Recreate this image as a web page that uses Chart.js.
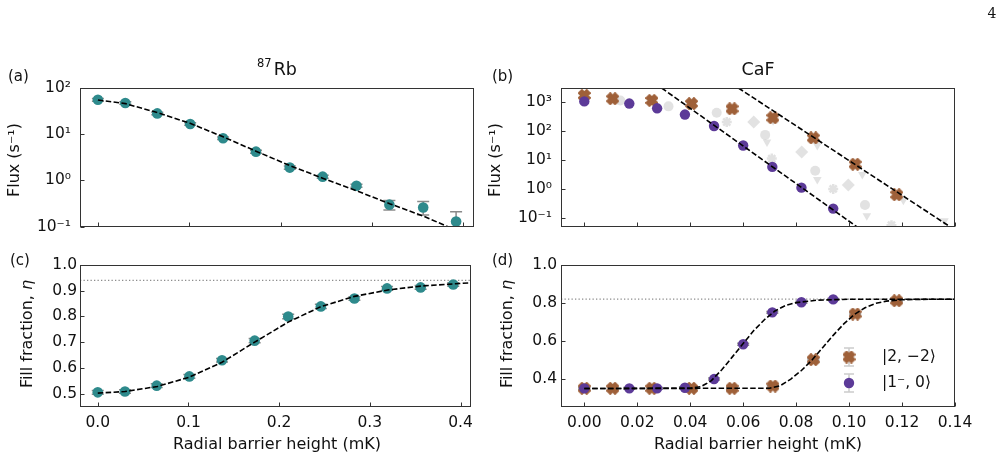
<!DOCTYPE html>
<html>
<head>
<meta charset="utf-8">
<script src="https://cdn.jsdelivr.net/npm/chart.js@4.4.1/dist/chart.umd.min.js"></script>
<style>
  html, body { margin: 0; padding: 0; background: #fff; }
  #wrap { position: relative; width: 1004px; height: 461px; overflow: hidden; }
  canvas { position: absolute; }
</style>
</head>
<body>
<div id="wrap">
  <canvas id="pa" width="480" height="245" style="left:0;top:0"></canvas>
  <canvas id="pb" width="524" height="245" style="left:480px;top:0"></canvas>
  <canvas id="pc" width="480" height="216" style="left:0;top:245px"></canvas>
  <canvas id="pd" width="524" height="216" style="left:480px;top:245px"></canvas>
</div>
<script>
// ---- 87Rb: flux (a) and fill fraction (c) vs radial barrier height (mK) ----
const rbBarrier = [0.000, 0.030, 0.065, 0.101, 0.137, 0.173, 0.210, 0.246, 0.283, 0.319, 0.356, 0.392];
const rbFlux    = [55.7, 47.5, 28.2, 16.7, 8.2, 4.2, 1.9, 1.21, 0.77, 0.30, 0.26, 0.13];
const rbFluxLo  = [52, 44.5, 26.5, 15.6, 7.7, 3.9, 1.75, 1.12, 0.71, 0.23, 0.18, 0.07];
const rbFluxHi  = [59.5, 50.5, 30, 17.8, 8.7, 4.5, 2.05, 1.30, 0.83, 0.37, 0.35, 0.21];
const rbFluxFitX = [0.000, 0.030, 0.066, 0.100, 0.137, 0.173, 0.210, 0.246, 0.283, 0.320, 0.356, 0.383];
const rbFluxFitY = [55, 46, 29, 17.5, 8.8, 4.3, 2.1, 1.12, 0.60, 0.31, 0.17, 0.10];
const rbEta     = [0.505, 0.508, 0.531, 0.567, 0.630, 0.706, 0.800, 0.839, 0.870, 0.909, 0.913, 0.924];
const rbEtaErr  = [0.007, 0.007, 0.007, 0.007, 0.007, 0.008, 0.009, 0.008, 0.007, 0.007, 0.007, 0.007];
const rbEtaFitX = [0.000, 0.030, 0.066, 0.100, 0.137, 0.173, 0.210, 0.246, 0.283, 0.320, 0.356, 0.4116];
const rbEtaFitY = [0.502, 0.508, 0.528, 0.563, 0.622, 0.700, 0.778, 0.838, 0.878, 0.903, 0.918, 0.931];
const rbEtaMax  = 0.94;

// ---- CaF: |1-,0> (purple) and |2,-2> (brown) ----
const caf1Barrier = [0.000, 0.017, 0.0275, 0.038, 0.049, 0.060, 0.071, 0.082, 0.094];
const caf1Flux    = [1020, 860, 590, 360, 145, 31, 5.7, 1.1, 0.21];
const caf1Eta     = [0.351, 0.351, 0.351, 0.354, 0.400, 0.583, 0.751, 0.804, 0.819];
const caf2Barrier = [0.000, 0.0107, 0.0255, 0.0405, 0.0558, 0.0712, 0.0865, 0.1023, 0.118];
const caf2Flux    = [1630, 1260, 1100, 860, 570, 280, 57, 7.0, 0.63];
const caf2Eta     = [0.351, 0.351, 0.351, 0.351, 0.351, 0.363, 0.502, 0.742, 0.812];
const cafEtaErr   = 0.005;
const caf1FluxFitX = [0.0292, 0.1029];
const caf1FluxFitY = [2950, 0.05];
const caf2FluxFitX = [0.0582, 0.1381];
const caf2FluxFitY = [2950, 0.05];
const caf1EtaFitX = [0.000, 0.040, 0.044, 0.046, 0.048, 0.052, 0.056, 0.060, 0.064, 0.068, 0.072, 0.076, 0.080, 0.088, 0.100, 0.140];
const caf1EtaFitY = [0.350, 0.352, 0.360, 0.375, 0.392, 0.450, 0.518, 0.587, 0.655, 0.712, 0.758, 0.787, 0.802, 0.815, 0.820, 0.820];
const caf2EtaFitX = [0.000, 0.070, 0.074, 0.078, 0.082, 0.086, 0.090, 0.094, 0.098, 0.102, 0.106, 0.110, 0.114, 0.120, 0.130, 0.140];
const caf2EtaFitY = [0.350, 0.352, 0.365, 0.400, 0.445, 0.500, 0.565, 0.630, 0.690, 0.740, 0.775, 0.798, 0.810, 0.817, 0.820, 0.820];
const cafEtaMax = 0.82;

// faint grey reference points in (b)
const greyCircX = [0.0136, 0.0318, 0.050, 0.0683, 0.0872, 0.106];
const greyCircY = [1100, 690, 415, 72, 4.2, 0.28];
const greyTriX  = [0.069, 0.088, 0.1067, 0.0713, 0.088, 0.105, 0.1205, 0.136];
const greyTriY  = [41, 2.1, 0.12, 220, 31, 3.1, 0.41, 0.08];
const greyStarX = [0.0538, 0.0708, 0.094, 0.116];
const greyStarY = [200, 11, 1.0, 0.056];
const greyDiamX = [0.064, 0.0821, 0.0997];
const greyDiamY = [200, 18.6, 1.35];

// ---- axes ----
const rbXLim = [-0.0196, 0.4116];
const cafXLim = [-0.0088, 0.14];
const rbFluxLim = [0.1, 100];
const cafFluxLim = [0.05, 2950];
const rbEtaLim = [0.448, 1.0];
const cafEtaLim = [0.253, 1.0];
const rbXTicks = [0, 0.1, 0.2, 0.3, 0.4];
const rbXLabels = ['0.0', '0.1', '0.2', '0.3', '0.4'];
const cafXTicks = [0, 0.02, 0.04, 0.06, 0.08, 0.10, 0.12, 0.14];
const cafXLabels = ['0.00', '0.02', '0.04', '0.06', '0.08', '0.10', '0.12', '0.14'];
const rbFluxTicks = [0.1, 1, 10, 100];
const rbFluxLabels = ['10\u207B\u00B9', '10\u2070', '10\u00B9', '10\u00B2'];
const cafFluxTicks = [0.1, 1, 10, 100, 1000];
const cafFluxLabels = ['10\u207B\u00B9', '10\u2070', '10\u00B9', '10\u00B2', '10\u00B3'];
const rbEtaTicks = [0.5, 0.6, 0.7, 0.8, 0.9, 1.0];
const rbEtaLabels = ['0.5', '0.6', '0.7', '0.8', '0.9', '1.0'];
const cafEtaTicks = [0.4, 0.6, 0.8, 1.0];
const cafEtaLabels = ['0.4', '0.6', '0.8', '1.0'];

const FAM = 'DejaVu Sans';
const TEAL = '#2e8a8c';
const PURPLE = '#5c3a98';
const BROWN = '#9f6039';
const GREY = 'rgba(150,150,150,0.28)';
const LBL = 16;
const TICK = 15.5;
const F = (s, st) => (st ? st + ' ' : '') + s + 'px "' + FAM + '", sans-serif';

Chart.defaults.font.family = '"DejaVu Sans", sans-serif';
Chart.defaults.font.size = TICK;
Chart.defaults.color = '#111';

const pts = (xs, ys) => xs.map((x, i) => ({ x, y: ys[i] }));

function makeX(color, size) {
  const c = document.createElement('canvas');
  c.width = size; c.height = size;
  const g = c.getContext('2d');
  const h = size / 2, a = h * 1.0, w = size * 0.24;
  g.translate(h, h);
  g.rotate(Math.PI / 4);
  g.fillStyle = color;
  g.fillRect(-a, -w, 2 * a, 2 * w);
  g.fillRect(-w, -a, 2 * w, 2 * a);
  return c;
}
const brownX = makeX(BROWN, 13);

function drawParts(ctx, parts, x, y, align, rot) {
  ctx.save();
  ctx.translate(x, y);
  if (rot) ctx.rotate(rot);
  ctx.textAlign = 'left';
  let w = 0;
  parts.forEach(p => { ctx.font = p.font; w += ctx.measureText(p.t).width + (p.gap || 0); });
  let cx = align === 'center' ? -w / 2 : 0;
  ctx.fillStyle = '#111';
  parts.forEach(p => {
    ctx.font = p.font;
    ctx.textBaseline = p.base || 'alphabetic';
    ctx.fillText(p.t, cx, p.dy || 0);
    cx += ctx.measureText(p.t).width + (p.gap || 0);
  });
  ctx.restore();
}

function fitLine(xs, ys) {
  return { data: pts(xs, ys), showLine: true, pointRadius: 0, borderColor: '#000',
           borderWidth: 1.6, borderDash: [5.5, 2.4] };
}
function dotted(lim, v) {
  return { data: [{ x: lim[0], y: v }, { x: lim[1], y: v }], showLine: true, pointRadius: 0,
           borderColor: '#8c8c8c', borderWidth: 1.3, borderDash: [1.3, 2.2] };
}

function makePanel(id, cfg) {
  const deco = {
    id: 'deco_' + id,
    beforeDatasetsDraw(chart) {
      const { ctx, chartArea: a, scales: { x, y } } = chart;
      ctx.save();
      ctx.beginPath();
      ctx.rect(a.left, a.top, a.right - a.left, a.bottom - a.top);
      ctx.clip();
      chart.data.datasets.forEach(ds => {
        if (!ds.errLo) return;
        ctx.strokeStyle = '#8a8a8a';
        ctx.lineWidth = 1.5;
        ds.data.forEach((p, i) => {
          const px = x.getPixelForValue(p.x);
          const y1 = y.getPixelForValue(ds.errLo[i]);
          const y2 = y.getPixelForValue(ds.errHi[i]);
          ctx.beginPath();
          ctx.moveTo(px, y1); ctx.lineTo(px, y2);
          ctx.moveTo(px - 6, y1); ctx.lineTo(px + 6, y1);
          ctx.moveTo(px - 6, y2); ctx.lineTo(px + 6, y2);
          ctx.stroke();
        });
      });
      ctx.restore();
    },
    afterDatasetsDraw(chart) {
      const { ctx, chartArea: a, scales: { x, y } } = chart;
      ctx.save();
      ctx.strokeStyle = '#333';
      ctx.lineWidth = 1;
      const L = Math.round(a.left) + 0.5, R = Math.round(a.right) - 0.5;
      const T = Math.round(a.top) + 0.5, B = Math.round(a.bottom) - 0.5;
      ctx.strokeRect(L, T, R - L, B - T);
      ctx.beginPath();
      x.ticks.forEach(t => {
        const px = Math.round(x.getPixelForValue(t.value)) + 0.5;
        ctx.moveTo(px, B); ctx.lineTo(px, B - 4);
      });
      y.ticks.forEach(t => {
        const py = Math.round(y.getPixelForValue(t.value)) + 0.5;
        ctx.moveTo(L, py); ctx.lineTo(L + 4, py);
      });
      ctx.stroke();
      ctx.restore();
    },
    afterDraw(chart) {
      const ctx = chart.ctx;
      (cfg.texts || []).forEach(t => drawParts(ctx, t.parts, t.x, t.y, t.align, t.rot));
      (cfg.legend || []).forEach(it => {
        ctx.save();
        ctx.strokeStyle = '#cccccc';
        ctx.lineWidth = 1.5;
        ctx.beginPath();
        ctx.moveTo(it.x, it.y - 9); ctx.lineTo(it.x, it.y + 9);
        ctx.moveTo(it.x - 5, it.y - 9); ctx.lineTo(it.x + 5, it.y - 9);
        ctx.moveTo(it.x - 5, it.y + 9); ctx.lineTo(it.x + 5, it.y + 9);
        ctx.stroke();
        if (it.marker === 'x') {
          ctx.drawImage(brownX, it.x - brownX.width / 2, it.y - brownX.height / 2);
        } else {
          ctx.fillStyle = it.color;
          ctx.beginPath(); ctx.arc(it.x, it.y, 5.2, 0, Math.PI * 2); ctx.fill();
        }
        ctx.restore();
        drawParts(ctx, it.parts, it.x + 33, it.y, 'left', 0);
      });
    }
  };

  const axisTicks = (labels, pad, show) => ({
    display: show,
    padding: pad,
    autoSkip: false,
    maxRotation: 0,
    color: '#111',
    font: { size: TICK },
    callback: (v, i) => labels[i]
  });

  return new Chart(document.getElementById(id), {
    type: 'scatter',
    data: { datasets: cfg.datasets },
    options: {
      responsive: false,
      animation: false,
      devicePixelRatio: 1,
      events: [],
      layout: { padding: { left: 0, top: cfg.top, right: cfg.right, bottom: 0 } },
      plugins: { legend: { display: false }, tooltip: { enabled: false } },
      scales: {
        x: {
          type: 'linear', min: cfg.xlim[0], max: cfg.xlim[1],
          grid: { display: false, drawTicks: false }, border: { display: false },
          ticks: axisTicks(cfg.xlabels, 7, cfg.showX),
          afterBuildTicks: s => { s.ticks = cfg.xticks.map(v => ({ value: v })); },
          afterFit: s => { s.height = cfg.xh; }
        },
        y: {
          type: cfg.ylog ? 'logarithmic' : 'linear', min: cfg.ylim[0], max: cfg.ylim[1],
          grid: { display: false, drawTicks: false }, border: { display: false },
          ticks: axisTicks(cfg.ylabels, cfg.ypad, true),
          afterBuildTicks: s => { s.ticks = cfg.yticks.map(v => ({ value: v })); },
          afterFit: s => { s.width = cfg.yw; }
        }
      }
    },
    plugins: [deco]
  });
}

const fluxTitle = [{ t: 'Flux (s\u207B\u00B9)', font: F(LBL), base: 'middle' }];
const etaTitle = [{ t: 'Fill fraction, ', font: F(LBL), base: 'middle' },
                  { t: '\u03B7', font: F(LBL, 'italic'), base: 'middle' }];
const xTitle = [{ t: 'Radial barrier height (mK)', font: F(LBL), base: 'middle' }];

// (a)
makePanel('pa', {
  top: 88, right: 6, yw: 80, xh: 14, ypad: 9,
  xlim: rbXLim, ylim: rbFluxLim, ylog: true,
  xticks: rbXTicks, xlabels: rbXLabels, showX: false,
  yticks: rbFluxTicks, ylabels: rbFluxLabels,
  datasets: [
    fitLine(rbFluxFitX, rbFluxFitY),
    { data: pts(rbBarrier, rbFlux), errLo: rbFluxLo, errHi: rbFluxHi,
      backgroundColor: TEAL, borderWidth: 0, pointRadius: 5.3 }
  ],
  texts: [
    { parts: [{ t: '(a)', font: F(15), base: 'middle' }], x: 8, y: 77.5 },
    { parts: [{ t: '87', font: F(11.5), dy: -8.3, gap: 2 }, { t: 'Rb', font: F(17.5) }], x: 277, y: 75, align: 'center' },
    { parts: fluxTitle, x: 15, y: 160, align: 'center', rot: -Math.PI / 2 }
  ]
});

// (b)
makePanel('pb', {
  top: 88, right: 49, yw: 81, xh: 14, ypad: 9,
  xlim: cafXLim, ylim: cafFluxLim, ylog: true,
  xticks: cafXTicks, xlabels: cafXLabels, showX: false,
  yticks: cafFluxTicks, ylabels: cafFluxLabels,
  datasets: [
    fitLine(caf1FluxFitX, caf1FluxFitY),
    fitLine(caf2FluxFitX, caf2FluxFitY),
    { data: pts(caf1Barrier, caf1Flux), backgroundColor: PURPLE, borderWidth: 0, pointRadius: 5.2 },
    { data: pts(caf2Barrier, caf2Flux), pointStyle: brownX, pointRadius: 6 },
    { data: pts(greyCircX, greyCircY), backgroundColor: GREY, borderWidth: 0, pointRadius: 5 },
    { data: pts(greyTriX, greyTriY), pointStyle: 'triangle', rotation: 180, backgroundColor: GREY, borderWidth: 0, pointRadius: 5 },
    { data: pts(greyStarX, greyStarY), pointStyle: 'star', borderColor: GREY, borderWidth: 2.5, pointRadius: 5 },
    { data: pts(greyDiamX, greyDiamY), pointStyle: 'rectRot', backgroundColor: GREY, borderWidth: 0, pointRadius: 6.5 }
  ],
  texts: [
    { parts: [{ t: '(b)', font: F(15), base: 'middle' }], x: 12, y: 77.5 },
    { parts: [{ t: 'CaF', font: F(17.5) }], x: 278, y: 75, align: 'center' },
    { parts: fluxTitle, x: 15.5, y: 160, align: 'center', rot: -Math.PI / 2 },
    { parts: [{ t: '4', font: '14px "DejaVu Serif", serif', base: 'middle' }], x: 512, y: 14, align: 'center' }
  ]
});

// (c)
makePanel('pc', {
  top: 20, right: 6, yw: 80, xh: 54, ypad: 3,
  xlim: rbXLim, ylim: rbEtaLim, ylog: false,
  xticks: rbXTicks, xlabels: rbXLabels, showX: true,
  yticks: rbEtaTicks, ylabels: rbEtaLabels,
  datasets: [
    fitLine(rbEtaFitX, rbEtaFitY),
    { data: pts(rbBarrier, rbEta), errLo: rbEta.map((v, i) => v - rbEtaErr[i]), errHi: rbEta.map((v, i) => v + rbEtaErr[i]),
      backgroundColor: TEAL, borderWidth: 0, pointRadius: 5.3 },
    dotted(rbXLim, rbEtaMax)
  ],
  texts: [
    { parts: [{ t: '(c)', font: F(15), base: 'middle' }], x: 10, y: 16 },
    { parts: etaTitle, x: 28, y: 89, align: 'center', rot: -Math.PI / 2 },
    { parts: xTitle, x: 277, y: 200, align: 'center' }
  ]
});

// (d)
makePanel('pd', {
  top: 20, right: 49, yw: 81, xh: 54, ypad: 4,
  xlim: cafXLim, ylim: cafEtaLim, ylog: false,
  xticks: cafXTicks, xlabels: cafXLabels, showX: true,
  yticks: cafEtaTicks, ylabels: cafEtaLabels,
  datasets: [
    fitLine(caf1EtaFitX, caf1EtaFitY),
    fitLine(caf2EtaFitX, caf2EtaFitY),
    { data: pts(caf1Barrier, caf1Eta), errLo: caf1Eta.map(v => v - cafEtaErr), errHi: caf1Eta.map(v => v + cafEtaErr),
      backgroundColor: PURPLE, borderWidth: 0, pointRadius: 5.2 },
    { data: pts(caf2Barrier, caf2Eta), errLo: caf2Eta.map(v => v - cafEtaErr), errHi: caf2Eta.map(v => v + cafEtaErr),
      pointStyle: brownX, pointRadius: 6 },
    dotted(cafXLim, cafEtaMax)
  ],
  texts: [
    { parts: [{ t: '(d)', font: F(15), base: 'middle' }], x: 12, y: 16 },
    { parts: etaTitle, x: 28, y: 89, align: 'center', rot: -Math.PI / 2 },
    { parts: xTitle, x: 278, y: 200, align: 'center' }
  ],
  legend: [
    { x: 369, y: 112, marker: 'x', parts: [{ t: '|2, \u22122\u27E9', font: F(15.5), base: 'middle' }] },
    { x: 369, y: 138, marker: 'o', color: PURPLE, parts: [{ t: '|1\u207B, 0\u27E9', font: F(15.5), base: 'middle' }] }
  ]
});
</script>
</body>
</html>
